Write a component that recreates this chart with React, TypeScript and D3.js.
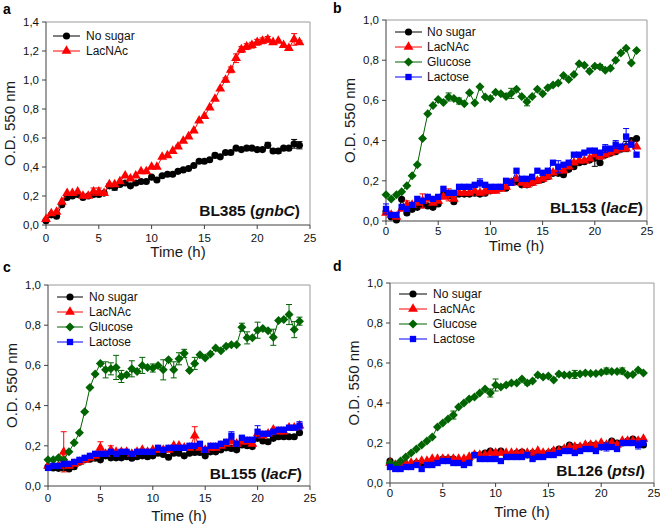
import * as d3 from 'd3';

// 測定時刻 (h)
const time = [0, 0.5, 1, 1.5, 2, 2.5, 3, 3.5, 4, 4.5, 5, 5.5, 6, 6.5, 7, 7.5, 8, 8.5, 9, 9.5, 10, 10.5, 11, 11.5, 12,
  12.5, 13, 13.5, 14, 14.5, 15, 15.5, 16, 16.5, 17, 17.5, 18, 18.5, 19, 19.5, 20, 20.5, 21, 21.5, 22, 22.5, 23, 23.5, 24];

const xTicks = [0, 5, 10, 15, 20, 25];
const legendNames = ['No sugar', 'LacNAc', 'Glucose', 'Lactose'];

// a: BL385 (gnbC)
const aNoSugar = [0.03, 0.07, 0.06, 0.14, 0.19, 0.20, 0.21, 0.19, 0.20, 0.21, 0.21, 0.22, 0.27, 0.26, 0.28, 0.29, 0.27, 0.29, 0.30, 0.30,
  0.33, 0.31, 0.34, 0.35, 0.35, 0.37, 0.38, 0.39, 0.41, 0.44, 0.44, 0.45, 0.48, 0.47, 0.50, 0.50, 0.53, 0.52, 0.53, 0.53,
  0.52, 0.52, 0.55, 0.51, 0.51, 0.53, 0.53, 0.56, 0.55];
const aLacNAc = [0.04, 0.08, 0.09, 0.16, 0.22, 0.22, 0.23, 0.20, 0.20, 0.23, 0.23, 0.22, 0.28, 0.28, 0.30, 0.34, 0.32, 0.34, 0.37, 0.37,
  0.40, 0.40, 0.47, 0.48, 0.51, 0.54, 0.58, 0.61, 0.65, 0.72, 0.75, 0.81, 0.87, 0.94, 1.00, 1.07, 1.15, 1.21, 1.23, 1.24,
  1.26, 1.27, 1.28, 1.26, 1.27, 1.24, 1.22, 1.28, 1.26];

// b: BL153 (lacE)
const bNoSugar = [0.046, 0.02, 0.005, 0.108, 0.04, 0.058, 0.068, 0.08, 0.075, 0.068, 0.085, 0.13, 0.125, 0.096, 0.134, 0.134, 0.134, 0.138, 0.134, 0.138,
  0.15, 0.154, 0.163, 0.163, 0.196, 0.196, 0.18, 0.18, 0.19, 0.20, 0.207, 0.22, 0.237, 0.237, 0.23, 0.257, 0.27, 0.29, 0.295, 0.303,
  0.312, 0.29, 0.328, 0.337, 0.345, 0.357, 0.37, 0.40, 0.41];
const bLacNAc = [0.04, 0.03, 0.02, 0.06, 0.08, 0.08, 0.09, 0.10, 0.11, 0.09, 0.10, 0.12, 0.13, 0.11, 0.14, 0.14, 0.14, 0.15, 0.14, 0.15,
  0.15, 0.15, 0.16, 0.17, 0.19, 0.21, 0.19, 0.18, 0.19, 0.20, 0.21, 0.22, 0.24, 0.25, 0.25, 0.27, 0.29, 0.30, 0.30, 0.31,
  0.33, 0.32, 0.33, 0.34, 0.35, 0.36, 0.36, 0.38, 0.37];
const bGlucose = [0.13, 0.11, 0.13, 0.145, 0.175, 0.225, 0.28, 0.41, 0.534, 0.575, 0.605, 0.59, 0.617, 0.61, 0.597, 0.583, 0.638, 0.587, 0.668, 0.617,
  0.61, 0.64, 0.633, 0.62, 0.635, 0.655, 0.62, 0.593, 0.62, 0.655, 0.633, 0.663, 0.676, 0.686, 0.724, 0.704, 0.729, 0.782, 0.775, 0.745,
  0.77, 0.768, 0.75, 0.76, 0.80, 0.836, 0.86, 0.786, 0.848];
const bLactose = [0.06, 0.03, 0.03, 0.07, 0.06, 0.08, 0.11, 0.10, 0.12, 0.11, 0.12, 0.16, 0.14, 0.14, 0.17, 0.17, 0.17, 0.18, 0.19, 0.18,
  0.17, 0.17, 0.17, 0.20, 0.19, 0.25, 0.21, 0.21, 0.22, 0.25, 0.24, 0.25, 0.29, 0.27, 0.28, 0.29, 0.33, 0.33, 0.34, 0.35,
  0.35, 0.34, 0.36, 0.36, 0.38, 0.37, 0.42, 0.38, 0.33];

// c: BL155 (lacF)
const cNoSugar = [0.096, 0.09, 0.088, 0.09, 0.085, 0.096, 0.118, 0.13, 0.133, 0.138, 0.13, 0.15, 0.14, 0.14, 0.14, 0.146, 0.138, 0.146, 0.15, 0.146,
  0.15, 0.163, 0.157, 0.143, 0.163, 0.163, 0.15, 0.163, 0.167, 0.167, 0.15, 0.17, 0.17, 0.18, 0.19, 0.187, 0.18, 0.204, 0.20, 0.196,
  0.237, 0.224, 0.22, 0.237, 0.245, 0.245, 0.245, 0.245, 0.265];
const cLacNAc = [0.10, 0.10, 0.10, 0.17, 0.10, 0.11, 0.12, 0.13, 0.14, 0.15, 0.19, 0.16, 0.18, 0.17, 0.17, 0.17, 0.16, 0.17, 0.18, 0.17,
  0.18, 0.18, 0.18, 0.18, 0.20, 0.20, 0.19, 0.19, 0.25, 0.19, 0.18, 0.19, 0.19, 0.20, 0.21, 0.22, 0.21, 0.22, 0.22, 0.21,
  0.26, 0.25, 0.26, 0.28, 0.27, 0.27, 0.29, 0.29, 0.30];
const cGlucose = [0.13, 0.13, 0.14, 0.13, 0.17, 0.215, 0.265, 0.37, 0.49, 0.557, 0.61, 0.578, 0.583, 0.59, 0.545, 0.553, 0.583, 0.57, 0.60, 0.59,
  0.587, 0.60, 0.578, 0.628, 0.578, 0.633, 0.66, 0.575, 0.61, 0.653, 0.637, 0.657, 0.687, 0.673, 0.695, 0.703, 0.703, 0.79, 0.737, 0.737,
  0.775, 0.783, 0.773, 0.74, 0.823, 0.828, 0.853, 0.778, 0.82];
const cLactose = [0.09, 0.10, 0.10, 0.11, 0.11, 0.12, 0.13, 0.14, 0.15, 0.16, 0.16, 0.16, 0.17, 0.16, 0.17, 0.17, 0.16, 0.17, 0.17, 0.17,
  0.17, 0.19, 0.18, 0.19, 0.19, 0.19, 0.19, 0.20, 0.20, 0.21, 0.18, 0.20, 0.20, 0.21, 0.22, 0.25, 0.21, 0.24, 0.23, 0.23,
  0.27, 0.26, 0.26, 0.27, 0.28, 0.28, 0.29, 0.29, 0.30];

// d: BL126 (ptsI)
const dNoSugar = [0.11, 0.09, 0.09, 0.09, 0.09, 0.10, 0.10, 0.10, 0.11, 0.11, 0.12, 0.12, 0.12, 0.11, 0.11, 0.12, 0.14, 0.14, 0.15, 0.16,
  0.15, 0.16, 0.14, 0.14, 0.15, 0.155, 0.14, 0.15, 0.15, 0.14, 0.15, 0.16, 0.17, 0.17, 0.19, 0.18, 0.18, 0.18, 0.19, 0.19,
  0.18, 0.19, 0.21, 0.20, 0.20, 0.21, 0.22, 0.21, 0.19];
const dLacNAc = [0.10, 0.09, 0.10, 0.10, 0.10, 0.10, 0.11, 0.11, 0.12, 0.12, 0.12, 0.12, 0.12, 0.12, 0.12, 0.13, 0.14, 0.14, 0.14, 0.15,
  0.15, 0.15, 0.15, 0.15, 0.15, 0.15, 0.15, 0.15, 0.16, 0.15, 0.15, 0.16, 0.16, 0.17, 0.18, 0.18, 0.18, 0.19, 0.19, 0.19,
  0.20, 0.19, 0.20, 0.19, 0.21, 0.21, 0.21, 0.21, 0.22];
const dGlucose = [0.10, 0.09, 0.11, 0.13, 0.15, 0.17, 0.19, 0.21, 0.23, 0.28, 0.30, 0.32, 0.34, 0.38, 0.40, 0.42, 0.43, 0.45, 0.47, 0.45,
  0.49, 0.48, 0.49, 0.50, 0.50, 0.52, 0.50, 0.51, 0.54, 0.53, 0.535, 0.515, 0.545, 0.54, 0.54, 0.543, 0.545, 0.55, 0.548, 0.548,
  0.553, 0.56, 0.557, 0.557, 0.56, 0.54, 0.543, 0.565, 0.55];
const dLactose = [0.08, 0.07, 0.07, 0.08, 0.08, 0.09, 0.07, 0.09, 0.09, 0.10, 0.11, 0.11, 0.10, 0.10, 0.09, 0.10, 0.14, 0.12, 0.12, 0.12,
  0.12, 0.11, 0.13, 0.13, 0.13, 0.13, 0.14, 0.12, 0.13, 0.13, 0.14, 0.14, 0.15, 0.16, 0.16, 0.15, 0.16, 0.17, 0.17, 0.16,
  0.18, 0.18, 0.18, 0.17, 0.20, 0.20, 0.20, 0.19, 0.20];

// 目立つ誤差 (時刻, SD)
const aNoSugarErr = [[21, 0.02], [22, 0.015], [23.5, 0.03], [24, 0.025], [16, 0.015], [6.5, 0.02]];
const aLacNAcErr = [[4.5, 0.025], [5, 0.025], [12.5, 0.01], [17, 0.015], [17.5, 0.02], [18, 0.03], [18.5, 0.02], [19, 0.02],
  [19.5, 0.02], [20, 0.02], [20.5, 0.02], [21, 0.02], [23.5, 0.04], [24, 0.01]];
const bNoSugarErr = [[20, 0.04], [23, 0.025]];
const bLacNAcErr = [[3.5, 0.035], [6, 0.03], [9.5, 0.02], [2, 0.02]];
const bGlucoseErr = [[6, 0.02], [7, 0.015], [12, 0.025], [13.5, 0.02], [20.5, 0.01]];
const bLactoseErr = [[0, 0.025], [23, 0.04], [22, 0.02], [21, 0.02], [16.5, 0.03], [9, 0.02]];
const cLacNAcErr = [[1.5, 0.10], [5, 0.03], [14, 0.045], [6, 0.02]];
const cGlucoseErr = [[5.5, 0.04], [6, 0.03], [6.5, 0.06], [7, 0.03], [8, 0.04], [9, 0.04], [10, 0.02], [11, 0.05], [12, 0.04],
  [12.5, 0.03], [13, 0.02], [14, 0.03], [18.5, 0.02], [19, 0.03], [20, 0.04], [21.5, 0.04], [23, 0.05], [23.5, 0.04], [24, 0.02]];
const cLactoseErr = [[20, 0.03], [17.5, 0.02], [24, 0.02]];
const dGlucoseErr = [[6, 0.02], [9.5, 0.02], [10, 0.03], [13, 0.01], [17.5, 0.02], [20.5, 0.015], [22, 0.015]];
const dLactoseErr = [[20.5, 0.02], [23.5, 0.02]];

const colors = ['#000000', '#ff0000', '#006400', '#0000ff'];
const shapes = ['circle', 'triangle', 'diamond', 'square'];

const mk = (idx, values, errors = []) => ({ name: legendNames[idx], color: colors[idx], shape: shapes[idx], values, errors });

const panels = [
  {
    letter: 'a', letterPos: [3, 14], strain: 'BL385 ', gene: 'gnbC', strainPos: [300, 216],
    box: { l: 46, r: 310, t: 22, b: 225 }, yMax: 1.4, xLabelY: 242, xTitleY: 257,
    legend: { x0: 53, x1: 80, tx: 86, y0: 36 },
    series: [mk(0, aNoSugar, aNoSugarErr), mk(1, aLacNAc, aLacNAcErr)],
  },
  {
    letter: 'b', letterPos: [333, 13], strain: 'BL153 ', gene: 'lacE', strainPos: [643, 213],
    box: { l: 386, r: 647, t: 20, b: 221 }, yMax: 1.0, xLabelY: 235, xTitleY: 251,
    legend: { x0: 395, x1: 422, tx: 427, y0: 32 },
    series: [mk(0, bNoSugar, bNoSugarErr), mk(1, bLacNAc, bLacNAcErr), mk(2, bGlucose, bGlucoseErr), mk(3, bLactose, bLactoseErr)],
  },
  {
    letter: 'c', letterPos: [3, 272], strain: 'BL155 ', gene: 'lacF', strainPos: [302, 479],
    box: { l: 48, r: 310, t: 285, b: 486 }, yMax: 1.0, xLabelY: 502, xTitleY: 521,
    legend: { x0: 57, x1: 83, tx: 89, y0: 297 },
    series: [mk(0, cNoSugar), mk(1, cLacNAc, cLacNAcErr), mk(2, cGlucose, cGlucoseErr), mk(3, cLactose, cLactoseErr)],
  },
  {
    letter: 'd', letterPos: [333, 271], strain: 'BL126 ', gene: 'ptsI', strainPos: [645, 476],
    box: { l: 390, r: 654, t: 283, b: 483 }, yMax: 1.0, xLabelY: 497, xTitleY: 517,
    legend: { x0: 399, x1: 427, tx: 433, y0: 294 },
    series: [mk(0, dNoSugar), mk(1, dLacNAc), mk(2, dGlucose, dGlucoseErr), mk(3, dLactose, dLactoseErr)],
  },
];

const FONT = '"Liberation Sans", Arial, sans-serif';
const fmtY = (v) => d3.format('.1f')(v).replace('.', ',');

function markerPath(shape) {
  if (shape === 'diamond') {
    const h = 4.5;
    return `M0,${-h}L${h},0L0,${h}L${-h},0Z`;
  }
  const type = shape === 'triangle' ? d3.symbolTriangle : shape === 'square' ? d3.symbolSquare : d3.symbolCircle;
  const size = shape === 'triangle' ? 42 : 40;
  return d3.symbol(type, size)();
}

function Panel({ p }) {
  const { box } = p;
  const x = d3.scaleLinear().domain([0, 25]).range([box.l, box.r]);
  const y = d3.scaleLinear().domain([0, p.yMax]).range([box.b, box.t]);
  const yTicks = d3.range(0, p.yMax + 0.001, 0.2);
  const line = d3.line().x((d) => x(d[0])).y((d) => y(d[1]));
  const cy = (box.t + box.b) / 2;

  return (
    <g>
      <text x={p.letterPos[0]} y={p.letterPos[1]} fontSize={14} fontWeight="bold" fontFamily={FONT}>{p.letter}</text>
      {/* 枠 */}
      <line x1={box.l} x2={box.r} y1={box.t} y2={box.t} stroke="#9a9a9a" strokeWidth={1} />
      <line x1={box.r} x2={box.r} y1={box.t} y2={box.b} stroke="#9a9a9a" strokeWidth={1} />
      <line x1={box.l} x2={box.l} y1={box.t} y2={box.b} stroke="#404040" strokeWidth={1} />
      <line x1={box.l} x2={box.r} y1={box.b} y2={box.b} stroke="#404040" strokeWidth={1} />
      {yTicks.map((t) => (
        <g key={'y' + t}>
          <line x1={box.l - 4} x2={box.l} y1={y(t)} y2={y(t)} stroke="#404040" />
          <text x={box.l - 7} y={y(t) + 4} textAnchor="end" fontSize={11.5} fontFamily={FONT} fill="#111">{fmtY(t)}</text>
        </g>
      ))}
      {xTicks.map((t) => (
        <g key={'x' + t}>
          <line x1={x(t)} x2={x(t)} y1={box.b} y2={box.b + 4} stroke="#404040" />
          <text x={x(t)} y={p.xLabelY} textAnchor="middle" fontSize={11.5} fontFamily={FONT} fill="#111">{t}</text>
        </g>
      ))}
      <text x={(box.l + box.r) / 2} y={p.xTitleY} textAnchor="middle" fontSize={15} fontFamily={FONT} fill="#1a1a1a">Time (h)</text>
      <text transform={`translate(${box.l - 31},${cy}) rotate(-90)`} textAnchor="middle" fontSize={15} fontFamily={FONT} fill="#1a1a1a">O.D. 550 nm</text>

      {p.series.map((s) => {
        const pts = time.map((t, i) => [t, s.values[i]]);
        const path = markerPath(s.shape);
        return (
          <g key={s.name}>
            <path d={line(pts)} fill="none" stroke={s.color} strokeWidth={1} />
            {s.errors.map(([t, e]) => {
              const v = s.values[time.indexOf(t)];
              return (
                <g key={'e' + t} stroke={s.color} strokeWidth={1}>
                  <line x1={x(t)} x2={x(t)} y1={y(v - e)} y2={y(v + e)} />
                  <line x1={x(t) - 3} x2={x(t) + 3} y1={y(v + e)} y2={y(v + e)} />
                  <line x1={x(t) - 3} x2={x(t) + 3} y1={y(v - e)} y2={y(v - e)} />
                </g>
              );
            })}
            {pts.map(([t, v]) => (
              <path key={t} d={path} transform={`translate(${x(t)},${y(v)})`} fill={s.color} />
            ))}
          </g>
        );
      })}

      {/* 凡例 */}
      {p.series.map((s, i) => {
        const ly = p.legend.y0 + i * 15;
        const mx = (p.legend.x0 + p.legend.x1) / 2;
        return (
          <g key={'lg' + s.name}>
            <line x1={p.legend.x0} x2={p.legend.x1} y1={ly} y2={ly} stroke={s.color} strokeWidth={1} />
            <path d={markerPath(s.shape)} transform={`translate(${mx},${ly})`} fill={s.color} />
            <text x={p.legend.tx} y={ly + 4} fontSize={12} fontFamily={FONT} fill="#111">{s.name}</text>
          </g>
        );
      })}

      <text x={p.strainPos[0]} y={p.strainPos[1]} textAnchor="end" fontSize={15.5} fontWeight="bold" fontFamily={FONT} fill="#111">
        {p.strain}(<tspan fontStyle="italic">{p.gene}</tspan>)
      </text>
    </g>
  );
}

export default function App() {
  return (
    <svg width={660} height={527} style={{ position: 'absolute', left: 0, top: 0, background: '#fff' }}>
      {panels.map((p) => <Panel key={p.letter} p={p} />)}
    </svg>
  );
}
